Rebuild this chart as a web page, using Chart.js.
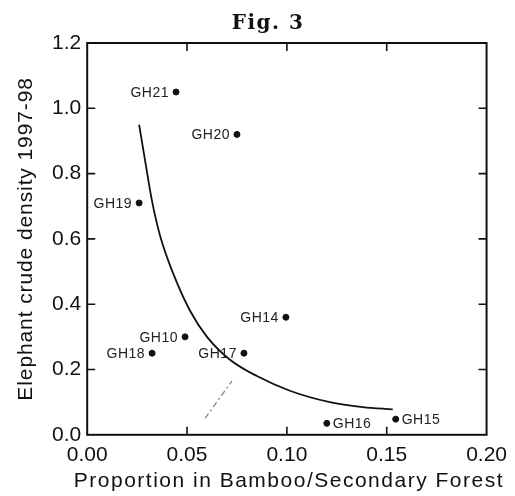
<!DOCTYPE html>
<html>
<head>
<meta charset="utf-8">
<script src="https://cdn.jsdelivr.net/npm/chart.js@4.4.0/dist/chart.umd.min.js"></script>
<style>
  html, body { margin: 0; padding: 0; background: #fff; }
  #wrap { width: 515px; height: 496px; position: relative; }
</style>
</head>
<body>
<div id="wrap"><canvas id="chart"></canvas></div>
<script>
// site observations
const siteNames = ['GH21', 'GH20', 'GH19', 'GH14', 'GH10', 'GH18', 'GH17', 'GH16', 'GH15'];
const siteX = [0.0445, 0.075, 0.026, 0.0995, 0.049, 0.0325, 0.0785, 0.120, 0.1545];
const siteY = [1.05, 0.92, 0.71, 0.36, 0.30, 0.25, 0.25, 0.035, 0.048];
const labelRight = ['GH16', 'GH15'];

// fitted curve
const curveX = [0.026, 0.029, 0.0325, 0.0365, 0.043, 0.0515, 0.060, 0.0715, 0.085, 0.1015, 0.1215, 0.138, 0.153];
const curveY = [0.95, 0.84, 0.715, 0.61, 0.495, 0.38, 0.30, 0.23, 0.18, 0.135, 0.10, 0.085, 0.078];

// faint dashed stroke near GH17
const dashX = [0.059, 0.0725];
const dashY = [0.05, 0.165];

const xTicks = [0, 0.05, 0.10, 0.15, 0.20];
const yTicks = [0, 0.2, 0.4, 0.6, 0.8, 1.0, 1.2];

const xTitle = 'Proportion in Bamboo/Secondary Forest';
const yTitle = 'Elephant crude density 1997-98';
const figTitle = 'Fig. 3';

const sans = '"Liberation Sans", Arial, Helvetica, sans-serif';

const toPoints = (xs, ys) => xs.map((x, i) => ({ x: x, y: ys[i] }));

const frameAndLabels = {
  id: 'frameAndLabels',
  afterDraw(chart) {
    const ctx = chart.ctx;
    const area = chart.chartArea;
    const xs = chart.scales.x;
    const ys = chart.scales.y;
    ctx.save();

    // box
    ctx.strokeStyle = '#111';
    ctx.lineWidth = 2;
    ctx.strokeRect(area.left, area.top, area.right - area.left, area.bottom - area.top);

    // inward ticks on all four sides
    const len = 8;
    ctx.lineWidth = 1.6;
    ctx.beginPath();
    xTicks.slice(1, -1).forEach(v => {
      const px = xs.getPixelForValue(v);
      ctx.moveTo(px, area.bottom); ctx.lineTo(px, area.bottom - len);
      ctx.moveTo(px, area.top); ctx.lineTo(px, area.top + len);
    });
    yTicks.slice(1, -1).forEach(v => {
      const py = ys.getPixelForValue(v);
      ctx.moveTo(area.left, py); ctx.lineTo(area.left + len, py);
      ctx.moveTo(area.right, py); ctx.lineTo(area.right - len, py);
    });
    ctx.stroke();

    // site labels
    ctx.fillStyle = '#222';
    ctx.font = '14px ' + sans;
    ctx.letterSpacing = '0.5px';
    ctx.textBaseline = 'middle';
    siteNames.forEach((name, i) => {
      const px = xs.getPixelForValue(siteX[i]);
      const py = ys.getPixelForValue(siteY[i]);
      if (labelRight.includes(name)) {
        ctx.textAlign = 'left';
        ctx.fillText(name, px + 6, py + 1);
      } else {
        ctx.textAlign = 'right';
        ctx.fillText(name, px - 7, py + 1);
      }
    });

    // axis titles
    ctx.fillStyle = '#111';
    ctx.textAlign = 'center';
    ctx.textBaseline = 'alphabetic';
    ctx.font = '21px ' + sans;
    ctx.letterSpacing = '1.5px';
    ctx.fillText(xTitle, (area.left + area.right) / 2 + 2, 487);

    ctx.save();
    ctx.translate(32, (area.top + area.bottom) / 2);
    ctx.rotate(-Math.PI / 2);
    ctx.letterSpacing = '0.9px';
    ctx.fillText(yTitle, 0, 0);
    ctx.restore();

    // figure title
    ctx.font = 'bold 20px "DejaVu Serif", "Liberation Serif", serif';
    ctx.letterSpacing = '1.5px';
    ctx.fillText(figTitle, 268, 29);
    ctx.restore();
  }
};

new Chart(document.getElementById('chart'), {
  type: 'scatter',
  data: {
    datasets: [
      {
        label: 'Sites',
        data: toPoints(siteX, siteY),
        backgroundColor: '#111',
        borderColor: '#111',
        pointRadius: 3,
        showLine: false
      },
      {
        label: 'Fit',
        data: toPoints(curveX, curveY),
        borderColor: '#111',
        borderWidth: 1.8,
        pointRadius: 0,
        showLine: true,
        cubicInterpolationMode: 'monotone',
        fill: false
      },
      {
        label: 'Dash',
        data: toPoints(dashX, dashY),
        borderColor: '#888',
        borderWidth: 1.3,
        borderDash: [6, 3, 2, 3],
        pointRadius: 0,
        showLine: true,
        fill: false
      }
    ]
  },
  options: {
    responsive: true,
    maintainAspectRatio: false,
    animation: false,
    layout: {
      padding: { top: 43, right: 28, left: 46, bottom: 20 }
    },
    plugins: {
      legend: { display: false },
      tooltip: { enabled: false }
    },
    scales: {
      x: {
        type: 'linear',
        min: 0,
        max: 0.2,
        afterBuildTicks: axis => { axis.ticks = xTicks.map(v => ({ value: v })); },
        ticks: {
          color: '#111',
          padding: 8,
          maxRotation: 0,
          font: { size: 21, family: sans },
          callback: v => v.toFixed(2)
        },
        grid: { drawOnChartArea: false, drawTicks: false },
        border: { display: false }
      },
      y: {
        type: 'linear',
        min: 0,
        max: 1.2,
        afterBuildTicks: axis => { axis.ticks = yTicks.map(v => ({ value: v })); },
        ticks: {
          color: '#111',
          padding: 6,
          font: { size: 21, family: sans },
          callback: v => v.toFixed(1)
        },
        grid: { drawOnChartArea: false, drawTicks: false },
        border: { display: false }
      }
    }
  },
  plugins: [frameAndLabels]
});
</script>
</body>
</html>
